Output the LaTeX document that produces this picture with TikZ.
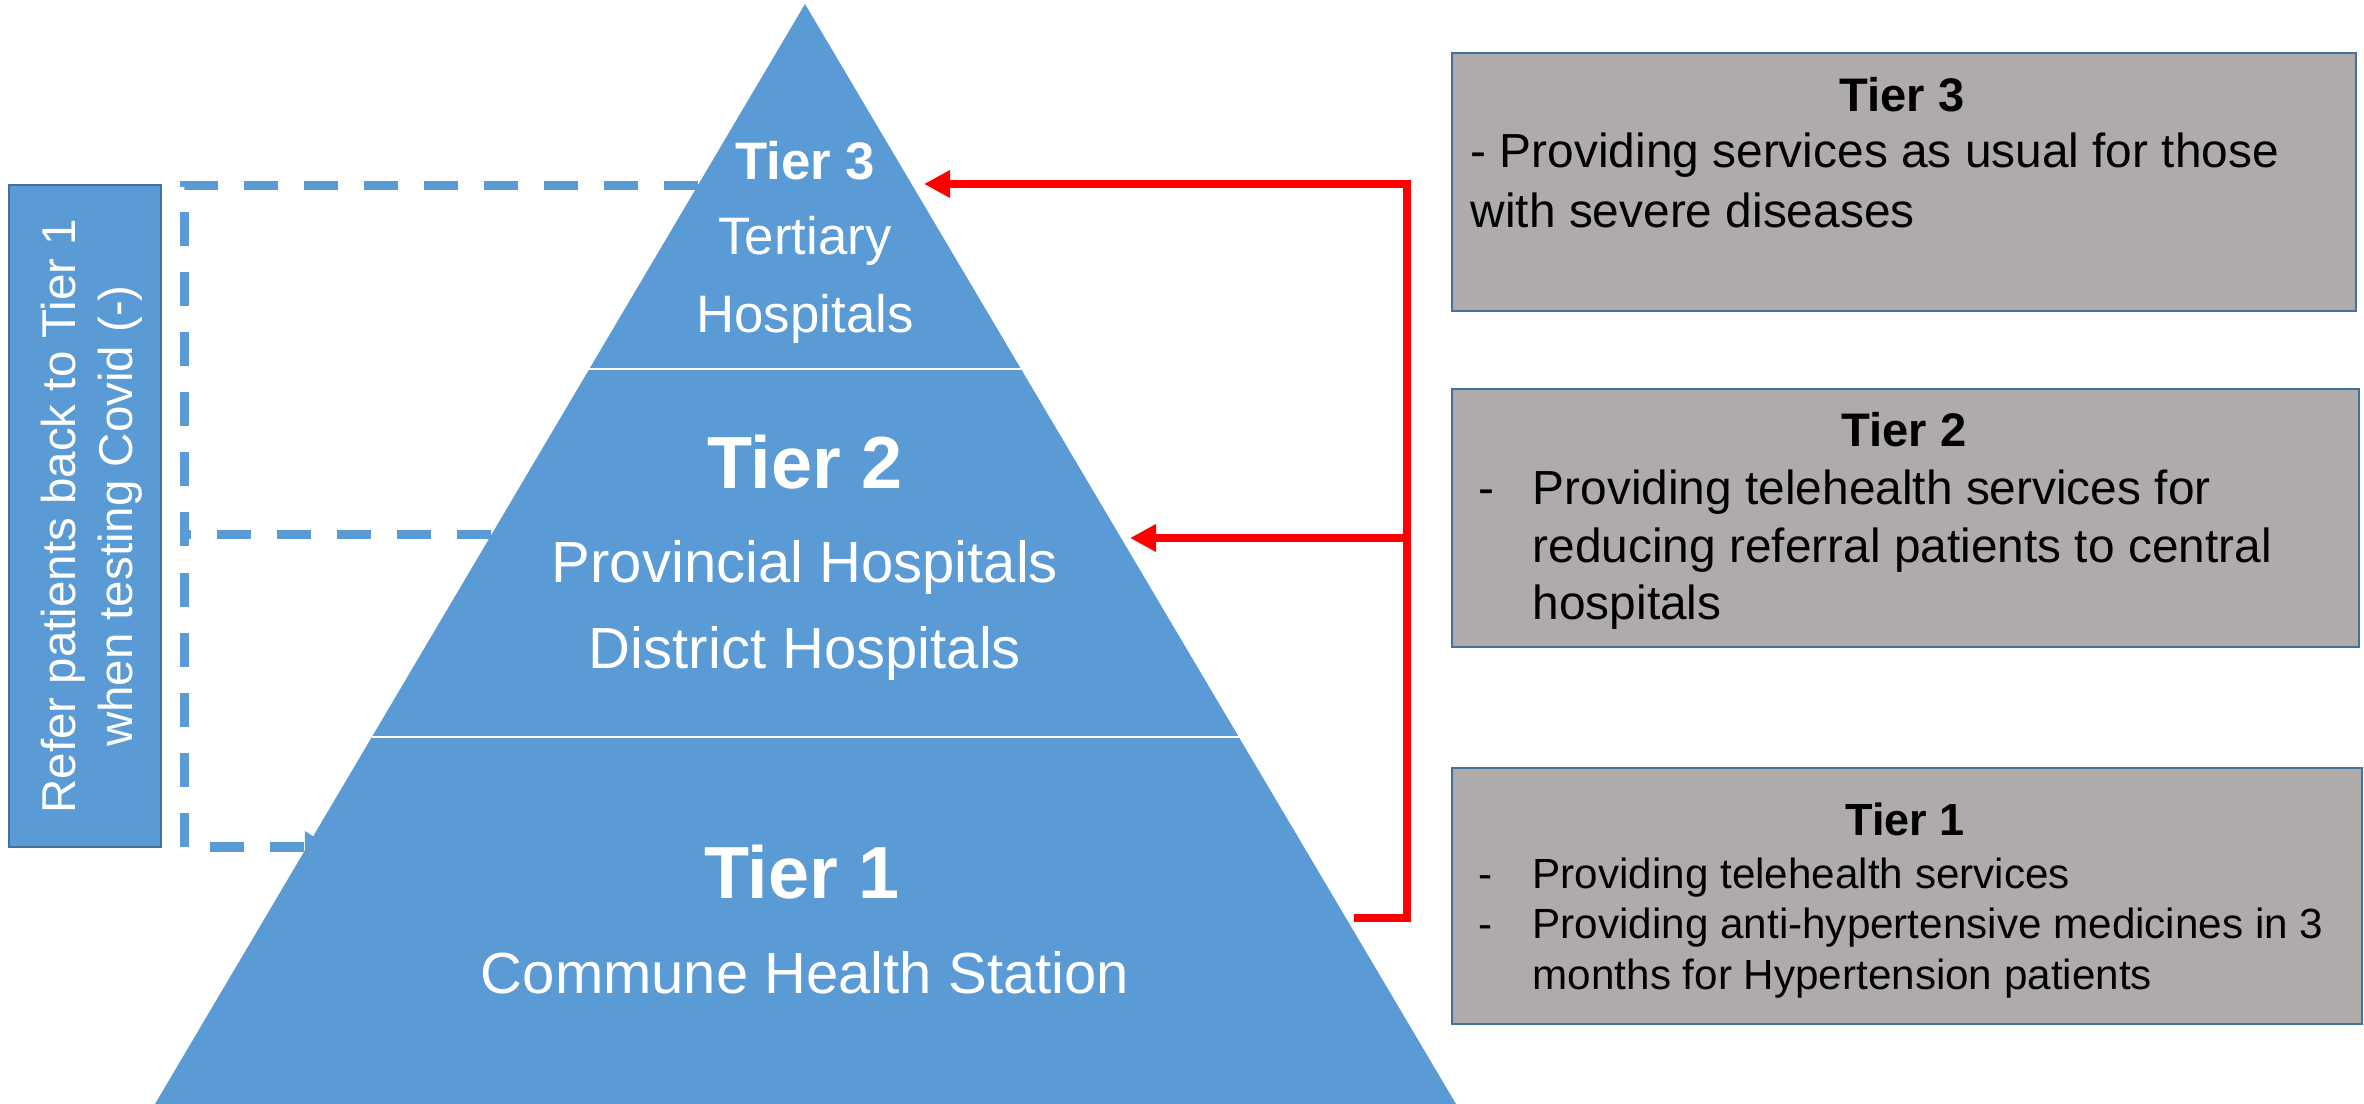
\documentclass[tikz,border=0pt]{standalone}
\usepackage{fontspec}
\setmainfont{Liberation Sans}
\usepackage{xcolor}
\usetikzlibrary{arrows.meta,
	calc,
	positioning}

\definecolor{tierblue}{HTML}{5B9BD5}
\definecolor{notegray}{HTML}{AFABAB}
\definecolor{noteline}{HTML}{41719C}

\newcommand{\tierlines}[2][c]{\begin{tabular}[t]{@{}#1@{}}#2\end{tabular}}

\tikzset{
	tierhead/.style={anchor=base, inner sep=0pt, text=white, font=\fontsize{21}{25}\selectfont\bfseries},
	tiername/.style={anchor=base, inner sep=0pt, text=white, font=\fontsize{16.5}{24.2}\selectfont},
	notebox/.style={anchor=north west, draw=noteline, line width=0.02cm, fill=notegray, inner sep=0pt},
	notehead/.style={anchor=base, inner sep=0pt, font=\fontsize{13.4}{16}\selectfont\bfseries},
	notetext/.style={anchor=base west, inner sep=0pt, font=\fontsize{13.6}{16.3}\selectfont},
	sidebox/.style={draw=noteline, line width=0.02cm, fill=tierblue, inner sep=0pt},
	sidetext/.style={rotate=90, inner sep=0pt, text=white, font=\fontsize{13.5}{16.2}\selectfont},
	referral/.style={red, line width=0.085cm},
	backref/.style={tierblue, line width=0.09cm, dash pattern=on 0.34cm off 0.26cm}
}

\begin{document}
\begin{tikzpicture}[x=0.01cm, y=-0.01cm, >={Triangle[length=0.26cm, width=0.26cm]}]
	\useasboundingbox (0,0) rectangle (2364,1104);
	% pyramid and the points where the connectors meet it
	\coordinate (apex) at (805,4);
	\coordinate (baseL) at (155,1104);
	\coordinate (baseR) at (1456,1104);
	\coordinate (edge3L) at (698,186);
	\coordinate (edge2L) at (491,535);
	\coordinate (edge1L) at (330,847);
	\coordinate (edge3R) at (924,184);
	\coordinate (edge2R) at (1130,538);
	\coordinate (edge1R) at (1354,918);
	\coordinate (backT) at (184,186);
	\coordinate (backM) at (184,535);
	\coordinate (backB) at (184,847);
	\coordinate (bus3) at (1407,184);
	\coordinate (bus2) at (1407,538);
	\coordinate (bus1) at (1407,918);

	\node[sidebox, minimum width=1.52cm, minimum height=6.62cm] (refer) at (85,516) {};
	\node[sidetext] (refertext) at (93,516) {\tierlines{Refer patients back to Tier 1\\when testing Covid (-)}};

	\draw[backref, -{Triangle[length=0.25cm, width=0.3cm]}] (edge3L) -- (backT) -- (backB) -- (edge1L);
	\draw[backref] (edge2L) -- (backM);

	\fill[tierblue] (apex) -- (baseL) -- (baseR) -- cycle;
	\draw[white, line width=0.025cm] ($(apex)!0.3318!(baseL)$) -- ($(apex)!0.3318!(baseR)$);
	\draw[white, line width=0.025cm] ($(apex)!0.6664!(baseL)$) -- ($(apex)!0.6664!(baseR)$);

	\node[tierhead, font=\fontsize{15}{18}\selectfont\bfseries] (tier3) at (805,180) {Tier 3};
	\node[tiername, font=\fontsize{15}{21.9}\selectfont] (tier3name) at (805,255) {\tierlines{Tertiary\\Hospitals}};
	\node[tierhead] (tier2) at (805,489) {Tier 2};
	\node[tiername] (tier2name) at (805,583) {\tierlines{Provincial Hospitals\\District Hospitals}};
	\node[tierhead] (tier1) at (802,899) {Tier 1};
	\node[tiername] (tier1name) at (805,993) {Commune Health Station};

	\draw[referral, ->] (edge1R) -- (bus1) -- (bus3) -- (edge3R);
	\draw[referral, ->] (bus2) -- (edge2R);

	\node[notebox, minimum width=9.03cm, minimum height=2.58cm] (note3) at (1451,52) {};
	\node[notebox, minimum width=9.06cm, minimum height=2.58cm] (note2) at (1451,388) {};
	\node[notebox, minimum width=9.09cm, minimum height=2.56cm] (note1) at (1451,767) {};

	\node[notehead] (head3) at (1902,112) {Tier 3};
	\node[notetext, font=\fontsize{13.6}{16.8}\selectfont] (text3) at (1470,168) {\tierlines[l]{- Providing services as usual for those\\with severe diseases}};
	\node[notehead] (head2) at (1904,447) {Tier 2};
	\node[notetext] (text2) at (1478,505) {\tierlines[p{0.54cm}@{}l]{-&Providing telehealth services for\\&reducing referral patients to central\\&hospitals}};
	\node[notehead, font=\fontsize{12.8}{15}\selectfont\bfseries] (head1) at (1905,836) {Tier 1};
	\node[notetext, font=\fontsize{12}{14.5}\selectfont] (text1) at (1478,888) {\tierlines[p{0.54cm}@{}l]{-&Providing telehealth services\\-&Providing anti-hypertensive medicines in 3\\&months for Hypertension patients}};
\end{tikzpicture}
\end{document}
